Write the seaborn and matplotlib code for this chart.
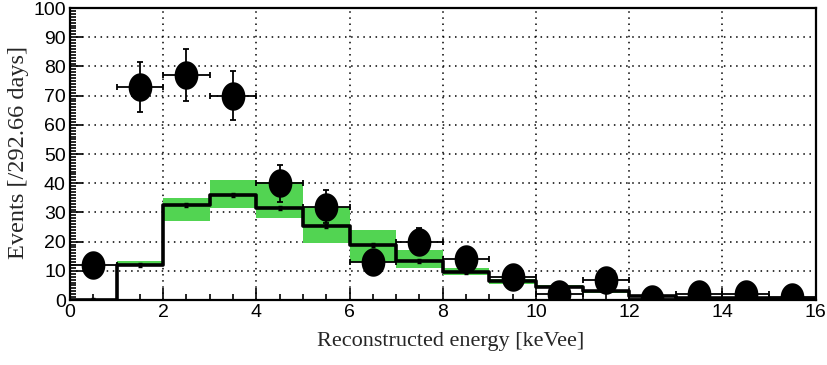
import numpy as np
import pandas as pd
import seaborn as sns
import matplotlib.pyplot as plt
from matplotlib.path import Path
from matplotlib.ticker import MultipleLocator

sns.set_theme(style="ticks")
plt.rcParams['font.family'] = ['Liberation Sans', 'DejaVu Sans']

# data
bin_edges = list(range(0, 17))
bin_centers = [0.5, 1.5, 2.5, 3.5, 4.5, 5.5, 6.5, 7.5, 8.5, 9.5, 10.5, 11.5, 12.5, 13.5, 14.5, 15.5]
counts = [12, 73, 77, 70, 40, 32, 13, 20, 14, 8, 2, 7, 0.5, 2, 2, 1]
count_err = [3.5, 8.5, 8.8, 8.4, 6.3, 5.7, 3.6, 4.5, 3.7, 2.8, 1.4, 2.6, 0.7, 1.4, 1.4, 1.0]
model = [0, 12, 32.5, 36, 31.5, 25.5, 19, 13.5, 9.5, 6.5, 4.5, 3, 1.5, 0.8, 0.8, 0.5]
band_lo = [0, 12, 27, 31.5, 28, 19.5, 13, 11, 8.5, 5.5, 4, 2.5, 1.2, 0.6, 0.6, 0.3]
band_hi = [0, 13.5, 35, 41, 40.5, 32, 24, 17, 11, 7.2, 5, 3.5, 1.8, 1.0, 1.0, 0.7]

df = pd.DataFrame({'center': bin_centers, 'counts': counts, 'err': count_err,
                   'model': model, 'lo': band_lo, 'hi': band_hi})
step = pd.DataFrame({'edge': bin_edges, 'model': model + [model[-1]]})

fig = plt.figure(figsize=(8.27, 3.65), dpi=100)
ax = fig.add_axes([0.0846, 0.178, 0.9016, 0.800])

# green uncertainty band
for i, row in df.iterrows():
    ax.fill_between([row['center'] - 0.5, row['center'] + 0.5], row['lo'], row['hi'],
                    color='#52d452', lw=0, zorder=2)

# model histogram
sns.lineplot(data=step, x='edge', y='model', drawstyle='steps-post', color='black',
             lw=2.6, ax=ax, zorder=3)
ax.errorbar(df['center'], df['model'], yerr=0.7, fmt='o', ms=2, color='black',
            elinewidth=1, capsize=1.5, zorder=3)

# data points
ellipse = Path(np.column_stack([np.cos(np.linspace(0, 2 * np.pi, 60)),
                                1.2 * np.sin(np.linspace(0, 2 * np.pi, 60))]))
ax.errorbar(df['center'], df['counts'], xerr=0.5, yerr=df['err'], fmt='none',
            ecolor='black', elinewidth=1.3, capsize=2.5, capthick=1.3, zorder=4)
sns.scatterplot(data=df, x='center', y='counts', marker=ellipse, s=420, color='black',
                edgecolor='black', linewidth=0, ax=ax, zorder=5)

ax.set_xlim(0, 16)
ax.set_ylim(0, 100)
ax.xaxis.set_major_locator(MultipleLocator(2))
ax.xaxis.set_minor_locator(MultipleLocator(0.5))
ax.yaxis.set_major_locator(MultipleLocator(10))
ax.yaxis.set_minor_locator(MultipleLocator(1))
ax.tick_params(which='both', direction='in', top=False, right=False, labelsize=14, width=1.2,
               colors='black', pad=3)
ax.tick_params(which='major', length=9)
ax.tick_params(which='minor', length=4.5)
ax.grid(True, which='major', color='black', linestyle=(0, (1, 3)), linewidth=1.1)
for s in ax.spines.values():
    s.set_linewidth(1.6)
    s.set_color('black')
    s.set_visible(True)

ax.set_xlabel('Reconstructed energy [keVee]', family=['Liberation Serif', 'DejaVu Serif'],
              fontsize=16)
ax.set_ylabel('Events [/292.66 days]', family=['Liberation Serif', 'DejaVu Serif'],
              fontsize=17.5)
ax.xaxis.set_label_coords(0.51, -0.11)
ax.yaxis.set_label_coords(-0.055, 0.505)

fig.savefig('out.png', dpi=100)
